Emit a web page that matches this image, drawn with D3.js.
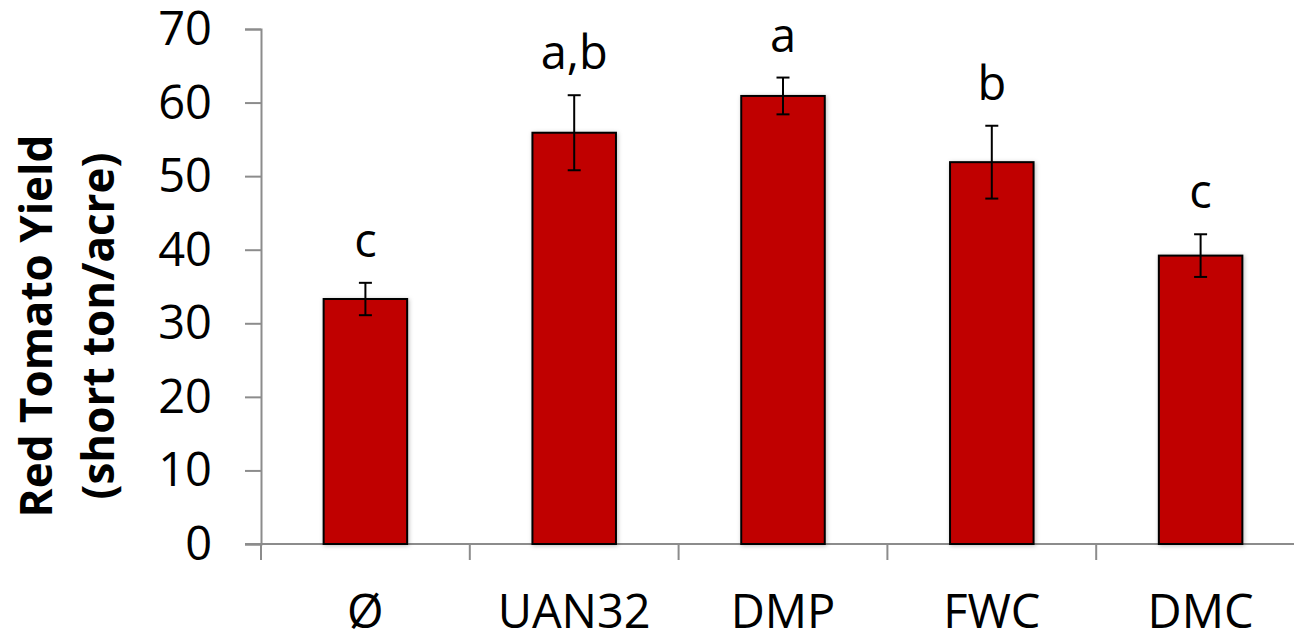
<!DOCTYPE html>
<html>
<head>
<meta charset="utf-8">
<script src="https://cdn.jsdelivr.net/npm/d3@7"></script>
<style>
  body { margin: 0; background: #fff; }
  text { font-family: "Open Sans", "Noto Sans", sans-serif; fill: #000; }
</style>
</head>
<body>
<div id="graphique"></div>
<script>
// données
var categories = ["Ø", "UAN32", "DMP", "FWC", "DMC"];
var moyennes = [33.3, 55.9, 60.9, 51.9, 39.2];
var erreurs = [2.2, 5.1, 2.5, 4.95, 2.9];
var lettres = ["c", "a,b", "a", "b", "c"];
var yTicks = [0, 10, 20, 30, 40, 50, 60, 70];

var largeurSvg = 1294, hauteurSvg = 636;
var marges = {haut: 29, droite: -11, bas: 92, gauche: 261},
    largeur = largeurSvg - marges.gauche - marges.droite,
    hauteur = hauteurSvg - marges.haut - marges.bas;

var svg = d3.select("#graphique")
    .append("svg")
    .attr("width", largeurSvg)
    .attr("height", hauteurSvg);

// petite ombre sous les barres, comme dans Excel
var defs = svg.append("defs");
var ombre = defs.append("filter").attr("id", "ombre")
    .attr("x", "-20%").attr("y", "-20%").attr("width", "140%").attr("height", "140%");
ombre.append("feDropShadow")
    .attr("dx", 1).attr("dy", 1).attr("stdDeviation", 2)
    .attr("flood-color", "#000").attr("flood-opacity", 0.25);

var g = svg.append("g")
    .attr("transform", "translate(" + marges.gauche + "," + marges.haut + ")");

var x = d3.scaleBand()
    .domain(categories)
    .range([0, largeur])
    .paddingInner(0.6)
    .paddingOuter(0.3);
var y = d3.scaleLinear()
    .domain([0, 70])
    .range([hauteur, 0]);

var gris = "#8c8c8c";

// axe y
var axeY = g.append("g")
    .call(d3.axisLeft(y).tickValues(yTicks).tickSize(16).tickPadding(33));
axeY.select(".domain").attr("stroke", gris).attr("stroke-width", 2);
axeY.selectAll(".tick line").attr("stroke", gris).attr("stroke-width", 2);
axeY.selectAll(".tick text")
    .style("font-size", "47px")
    .attr("dy", "0.33em");

// axe x : ligne + graduations entre les catégories
var pas = x.step();
var bords = categories.map(function(c) { return x(c) - pas * 0.3; });
bords.push(x(categories[categories.length - 1]) + x.bandwidth() + pas * 0.3);

var axeX = g.append("g").attr("transform", "translate(0," + hauteur + ")");
axeX.append("line")
    .attr("x1", -16).attr("x2", largeur)
    .attr("stroke", gris).attr("stroke-width", 2);
axeX.selectAll(".bord")
    .data(bords)
    .enter().append("line")
    .attr("class", "bord")
    .attr("x1", function(d) { return d; })
    .attr("x2", function(d) { return d; })
    .attr("y1", 0).attr("y2", 16)
    .attr("stroke", gris).attr("stroke-width", 2);
axeX.selectAll(".nom")
    .data(categories)
    .enter().append("text")
    .attr("class", "nom")
    .attr("x", function(d) { return x(d) + x.bandwidth() / 2; })
    .attr("y", 84)
    .attr("text-anchor", "middle")
    .style("font-size", "47px")
    .text(function(d) { return d; });

// barres
var donnees = categories.map(function(c, i) {
    return {cat: c, val: moyennes[i], err: erreurs[i], lettre: lettres[i]};
});

g.selectAll(".barre")
    .data(donnees)
    .enter().append("rect")
    .attr("class", "barre")
    .attr("x", function(d) { return x(d.cat); })
    .attr("width", x.bandwidth())
    .attr("y", function(d) { return y(d.val); })
    .attr("height", function(d) { return hauteur - y(d.val); })
    .attr("fill", "#C00000")
    .attr("stroke", "#000")
    .attr("stroke-width", 2)
    .attr("filter", "url(#ombre)");

// barres d'erreur
var erreur = g.selectAll(".erreur")
    .data(donnees)
    .enter().append("g")
    .attr("class", "erreur")
    .attr("stroke", "#000")
    .attr("stroke-width", 2);
erreur.append("line")
    .attr("x1", function(d) { return x(d.cat) + x.bandwidth() / 2; })
    .attr("x2", function(d) { return x(d.cat) + x.bandwidth() / 2; })
    .attr("y1", function(d) { return y(d.val + d.err); })
    .attr("y2", function(d) { return y(d.val - d.err); });
[1, -1].forEach(function(s) {
    erreur.append("line")
        .attr("x1", function(d) { return x(d.cat) + x.bandwidth() / 2 - 6.5; })
        .attr("x2", function(d) { return x(d.cat) + x.bandwidth() / 2 + 6.5; })
        .attr("y1", function(d) { return y(d.val + s * d.err); })
        .attr("y2", function(d) { return y(d.val + s * d.err); });
});

// lettres de significativité
g.selectAll(".lettre")
    .data(donnees)
    .enter().append("text")
    .attr("class", "lettre")
    .attr("x", function(d) { return x(d.cat) + x.bandwidth() / 2; })
    .attr("y", function(d) { return y(d.val + d.err) - 26; })
    .attr("text-anchor", "middle")
    .style("font-size", "47px")
    .text(function(d) { return d.lettre; });

// titre de l'axe y
var titre = svg.append("text")
    .attr("transform", "translate(52,326) rotate(-90)")
    .attr("text-anchor", "middle")
    .style("font-size", "44px")
    .style("font-weight", "bold");
titre.append("tspan").attr("x", 0).attr("dy", 0).text("Red Tomato Yield");
titre.append("tspan").attr("x", 0).attr("dy", 62).text("(short ton/acre)");
</script>
</body>
</html>
